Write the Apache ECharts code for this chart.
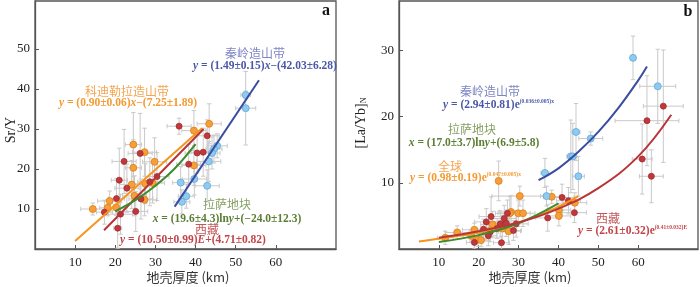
<!DOCTYPE html>
<html><head><meta charset="utf-8">
<script src="https://cdn.jsdelivr.net/npm/echarts@6/dist/echarts.min.js"></script>
<style>html,body{margin:0;padding:0;background:#fff}#c{width:700px;height:287px}</style>
</head><body><div id="c"></div>
<script>
// ---- tick labels ----
const xTicks = [10, 20, 30, 40, 50, 60];
const leftYTicks = [10, 20, 30, 40, 50];
const rightYTicks = [10, 20, 30];

// ---- panel a : Sr/Y  [x, y, xErr, yErr] ----
const leftQinling = [
  [52.5, 38.5, 1.2, 1.0], [52.5, 35.2, 2.5, 9.2], [45.4, 25.8, 2.5, 3.0], [44.6, 25.0, 2.0, 3.5],
  [44.1, 24.0, 2.0, 4.0], [43.3, 21.9, 3.0, 5.0], [39.7, 17.5, 3.0, 4.0], [36.3, 16.6, 2.0, 4.0],
  [42.9, 15.8, 3.0, 4.0], [37.7, 13.2, 2.0, 3.0], [36.6, 11.8, 2.0, 3.0]
];
const leftCordillera = [
  [14.4, 10.0, 3.0, 1.5], [18.6, 12.0, 3.0, 2.5], [18.1, 10.3, 2.0, 2.0], [20.2, 10.4, 2.0, 2.0],
  [24.5, 26.1, 2.0, 8.0], [27.3, 24.2, 3.0, 6.0], [24.5, 20.3, 2.0, 7.0], [29.8, 21.8, 3.0, 6.0],
  [24.1, 16.1, 3.0, 6.0], [27.5, 16.3, 3.0, 5.0], [29.3, 16.5, 3.0, 5.0], [24.8, 13.3, 3.0, 5.0],
  [27.3, 12.3, 3.0, 4.0], [39.6, 29.6, 3.0, 5.0], [43.4, 31.3, 3.0, 5.0], [39.6, 20.9, 3.0, 5.0]
];
const leftTibet = [
  [35.9, 30.7, 3.0, 2.0], [42.9, 28.3, 3.0, 4.0], [41.9, 24.2, 3.0, 6.0], [40.4, 24.0, 3.0, 5.0],
  [38.3, 21.2, 3.0, 5.0], [26.2, 23.9, 3.0, 10.0], [22.2, 21.9, 3.0, 8.0], [21.0, 17.2, 2.0, 8.0],
  [22.9, 15.2, 3.0, 6.0], [20.3, 12.6, 2.0, 5.0], [28.6, 16.8, 3.0, 6.0], [30.4, 18.1, 3.0, 6.0],
  [26.4, 12.5, 3.0, 5.0], [21.3, 8.7, 3.0, 5.0], [25.1, 9.4, 3.0, 5.0], [20.6, 5.2, 1.0, 5.0],
  [17.3, 9.2, 2.0, 3.0]
];
const leftQinlingFit = [[34.8, 10.6], [55.8, 42.2]];
const leftCordilleraFit = [[10.0, 2.0], [41.6, 30.2]];
const leftTibetFit = [[17.2, 4.7], [42.0, 30.0]];
const leftLhasaFit = [[20, 9.4], [25, 12.2], [30, 15.8], [35, 20.3], [40, 26.2]];

// ---- panel b : [La/Yb]N ----
const rightQinling = [
  [58.7, 28.9, 0.6, 3.3], [64.9, 24.6, 4.5, 5.6], [44.4, 17.7, 1.0, 4.3], [48.1, 16.7, 3.0, 1.0],
  [43.1, 14.0, 1.0, 5.5], [43.6, 14.0, 1.0, 5.0], [36.6, 11.5, 1.0, 2.2], [45.0, 11.0, 1.5, 3.0],
  [37.0, 8.0, 1.5, 1.5]
];
const rightGlobal = [
  [25.0, 10.3, 0.5, 3.0], [30.3, 8.0, 7.0, 1.5], [38.3, 7.9, 2.0, 1.0], [40.1, 5.9, 3.0, 1.0],
  [40.1, 5.0, 3.0, 1.5], [44.1, 7.0, 3.0, 1.5], [29.9, 5.4, 3.0, 2.0], [31.1, 5.4, 3.0, 2.0],
  [28.1, 5.6, 3.0, 2.5], [27.8, 5.4, 3.0, 2.5], [23.5, 3.7, 3.0, 2.0], [25.9, 3.1, 3.0, 2.0],
  [27.5, 2.7, 3.0, 2.0], [14.6, 2.5, 3.0, 1.0], [18.9, 2.9, 3.0, 1.0], [18.1, 2.0, 2.0, 1.0],
  [19.8, 1.4, 2.0, 1.0], [20.6, 1.35, 2.0, 1.0], [11.6, 1.7, 2.0, 1.0], [22.5, 2.7, 3.0, 1.5]
];
const rightTibet = [
  [66.3, 21.6, 5.0, 8.5], [62.2, 19.4, 8.0, 6.8], [61.0, 13.6, 2.5, 5.3], [63.3, 11.0, 3.0, 4.0],
  [40.9, 7.8, 3.0, 2.0], [42.5, 7.3, 3.0, 2.0], [44.0, 5.5, 3.0, 1.5], [37.3, 4.7, 3.0, 2.0],
  [27.2, 5.4, 3.0, 2.0], [23.1, 4.9, 3.0, 3.0], [26.4, 4.6, 3.0, 2.0], [21.9, 4.1, 3.0, 2.0],
  [25.4, 3.8, 3.0, 2.0], [26.9, 3.9, 3.0, 2.0], [29.4, 3.8, 3.0, 2.0], [21.2, 3.0, 2.0, 1.5],
  [22.9, 2.6, 2.0, 1.5], [28.7, 2.8, 2.0, 1.5], [24.6, 3.1, 2.0, 1.5], [22.4, 2.0, 2.0, 1.5],
  [18.9, 1.0, 2.0, 1.0], [25.7, 0.95, 2.0, 1.0]
];
const rightQinlingFit = [[35, 10.4], [40, 12.2], [45, 14.7], [50, 17.7], [55, 21.3], [60, 25.5], [62.2, 27.6]];
const rightGlobalFit = [[5, 1.15], [10, 1.55], [15, 2.0], [20, 2.5], [25, 3.2], [30, 4.0], [35, 5.1], [40, 6.4], [45, 8.0]];
const rightTibetFit = [[10, 1.7], [20, 2.7], [30, 4.0], [40, 6.1], [50, 9.2], [60, 14.0], [68.3, 20.3]];
const rightLhasaFit = [[10, 1.05], [20, 2.1], [30, 3.9], [40, 6.9]];

// ---- styles ----
const C = {
  orange: '#f7941d', orangeFill: '#f59e3c', orangeEdge: '#e07f12',
  red: '#b83436', redFill: '#c0383b',
  green: '#3f8a2c', blue: '#3a4da0', blueFill: '#8fcbef', blueEdge: '#5ea8dc',
  err: '#c9c9c9', frame: '#555'
};
const serif = '"Liberation Serif", "Times New Roman", "Noto Sans CJK SC", serif';
const cjk = '"Noto Sans CJK SC", sans-serif';

function errRender(params, api) {
  const x = api.value(0), y = api.value(1), ex = api.value(2), ey = api.value(3);
  const c = api.coord([x, y]);
  const l = api.coord([x - ex, y]), r = api.coord([x + ex, y]);
  const t = api.coord([x, y + ey]), b = api.coord([x, y - ey]);
  const cap = 2.2;
  const st = { stroke: C.err, lineWidth: 1 };
  const ch = [];
  const ln = (x1, y1, x2, y2) => ch.push({ type: 'line', shape: { x1, y1, x2, y2 }, style: st });
  ln(l[0], c[1], r[0], c[1]); ln(l[0], c[1] - cap, l[0], c[1] + cap); ln(r[0], c[1] - cap, r[0], c[1] + cap);
  ln(c[0], t[1], c[0], b[1]); ln(c[0] - cap, t[1], c[0] + cap, t[1]); ln(c[0] - cap, b[1], c[0] + cap, b[1]);
  return { type: 'group', children: ch };
}

function xAx(idx) {
  return {
    type: 'value', gridIndex: idx, min: 0, max: 75, interval: 10,
    axisLine: { show: true, lineStyle: { color: C.frame, width: 1.3 } },
    axisTick: { show: true, inside: true, length: 4, customValues: xTicks, lineStyle: { color: C.frame } },
    axisLabel: { customValues: xTicks, color: '#222', fontFamily: serif, fontSize: 13, margin: 7 },
    splitLine: { show: false }
  };
}
function yAx(idx, max, ticks) {
  return {
    type: 'value', gridIndex: idx, min: 0, max: max, interval: 10,
    axisLine: { show: true, lineStyle: { color: C.frame, width: 1.3 } },
    axisTick: { show: true, inside: true, length: 4, customValues: ticks, lineStyle: { color: C.frame } },
    axisLabel: { customValues: ticks, color: '#222', fontFamily: serif, fontSize: 13, margin: 5 },
    splitLine: { show: false }
  };
}
function errSeries(data, xi) {
  return { type: 'custom', xAxisIndex: xi, yAxisIndex: xi, data: data, renderItem: errRender, clip: true, z: 1, silent: true };
}
function scat(data, xi, fill, edge, size) {
  return { type: 'scatter', xAxisIndex: xi, yAxisIndex: xi, data: data.map(d => [d[0], d[1]]), symbolSize: size,
    itemStyle: { color: fill, borderColor: edge, borderWidth: 0.8, opacity: 1 }, z: 3, silent: true };
}
function fit(data, xi, color, smooth) {
  return { type: 'line', xAxisIndex: xi, yAxisIndex: xi, data: data, smooth: smooth ? 0.4 : false, showSymbol: false,
    symbol: 'none', lineStyle: { color: color, width: 2 }, z: 4, silent: true };
}

function txt(x, y, text, fill, font, align, rich, rot) {
  const o = { type: 'text', x: x, y: y, silent: true, z: 10,
    style: { text: text, fill: fill, font: font, align: align || 'center', verticalAlign: 'middle', rich: rich || undefined } };
  if (rot) o.rotation = rot;
  return o;
}
const eqFont = 'bold 11.5px ' + serif;
function eqRich(color) {
  return {
    i: { fontStyle: 'italic', fontWeight: 'bold', fontSize: 11.5, fontFamily: serif, color: color },
    n: { fontWeight: 'bold', fontSize: 11.5, fontFamily: serif, color: color },
    s: { fontWeight: 'bold', fontSize: 5.5, fontFamily: serif, color: color, verticalAlign: 'top', padding: [0, 0, 7, 0] }
  };
}

const chart = echarts.init(document.getElementById('c'), null, { renderer: 'canvas' });
chart.setOption({
  animation: false,
  grid: [
    { left: 35, top: 1, width: 301, height: 248, show: true, borderColor: C.frame, borderWidth: 1.3, backgroundColor: 'transparent' },
    { left: 399, top: 1, width: 299, height: 248, show: true, borderColor: C.frame, borderWidth: 1.3, backgroundColor: 'transparent' }
  ],
  xAxis: [xAx(0), xAx(1)],
  yAxis: [yAx(0, 62, leftYTicks), yAx(1, 37.5, rightYTicks)],
  series: [
    errSeries(leftQinling, 0), errSeries(leftCordillera, 0), errSeries(leftTibet, 0),
    scat(leftCordillera, 0, C.orangeFill, C.orangeEdge, 7),
    scat(leftTibet, 0, C.redFill, '#a52a2d', 6),
    scat(leftQinling, 0, C.blueFill, C.blueEdge, 7),
    fit(leftCordilleraFit, 0, C.orange, false),
    fit(leftTibetFit, 0, C.red, false),
    fit(leftLhasaFit, 0, C.green, true),
    fit(leftQinlingFit, 0, C.blue, false),

    errSeries(rightQinling, 1), errSeries(rightGlobal, 1), errSeries(rightTibet, 1),
    scat(rightGlobal, 1, C.orangeFill, C.orangeEdge, 7),
    scat(rightTibet, 1, C.redFill, '#a52a2d', 6),
    scat(rightQinling, 1, C.blueFill, C.blueEdge, 7),
    fit(rightGlobalFit, 1, C.orange, true),
    fit(rightLhasaFit, 1, C.green, true),
    fit(rightTibetFit, 1, C.red, true),
    fit(rightQinlingFit, 1, C.blue, true)
  ],
  graphic: [
    // panel letters
    txt(326, 11, 'a', '#111', 'bold 16px ' + serif),
    txt(688, 12, 'b', '#111', 'bold 16px ' + serif),
    // axis names
    txt(11, 130, 'Sr/Y', '#222', '14px ' + serif, 'center', null, Math.PI / 2),
    txt(361, 123, '[La/Yb]{sub|N}', '#222', '14px ' + serif, 'center',
      { sub: { fontSize: 8, fontFamily: serif, color: '#222', verticalAlign: 'bottom', padding: [6, 0, 0, 0] } }, Math.PI / 2),
    txt(188, 277, '地壳厚度 (km)', '#333', '13px ' + cjk),
    txt(530, 277, '地壳厚度 (km)', '#333', '13px ' + cjk),

    // panel a annotations
    txt(255, 53, '秦岭造山带', '#7d86c3', '12px ' + cjk),
    txt(265, 66, '{i|y}{n| = (1.49±0.15)}{i|x}{n|−(42.03±6.28)}', '#4a58a6', eqFont, 'center', eqRich('#4a58a6')),
    txt(127, 91, '科迪勒拉造山带', '#f5a550', '12px ' + cjk),
    txt(128, 103, '{i|y}{n| = (0.90±0.06)}{i|x}{n|−(7.25±1.89)}', '#f39a33', eqFont, 'center', eqRich('#f39a33')),
    txt(227, 204, '拉萨地块', '#86a063', '12px ' + cjk),
    txt(227, 219, '{i|x}{n| = (19.6±4.3)ln}{i|y}{n|+(−24.0±12.3)}', '#5b7d34', eqFont, 'center', eqRich('#5b7d34')),
    txt(207, 229, '西藏', '#c4585a', '12px ' + cjk),
    txt(193, 240, '{i|y}{n| = (10.50±0.99)}{i|E}{n|+(4.71±0.82)}', '#c2444a', eqFont, 'center', eqRich('#c2444a')),

    // panel b annotations
    txt(490, 91, '秦岭造山带', '#7d86c3', '12px ' + cjk),
    txt(443, 105, '{i|y}{n| = (2.94±0.81)e}{s|(0.036±0.005)x}', '#4a58a6', eqFont, 'left', eqRich('#4a58a6')),
    txt(472, 129, '拉萨地块', '#86a063', '12px ' + cjk),
    txt(474, 143, '{i|x}{n| = (17.0±3.7)ln}{i|y}{n|+(6.9±5.8)}', '#5b7d34', eqFont, 'center', eqRich('#5b7d34')),
    txt(450, 166, '全球', '#f5a550', '12px ' + cjk),
    txt(410, 178, '{i|y}{n| = (0.98±0.19)e}{s|(0.047±0.005)x}', '#f39a33', eqFont, 'left', eqRich('#f39a33')),
    txt(608, 218, '西藏', '#c4585a', '12px ' + cjk),
    txt(578, 231, '{i|y}{n| = (2.61±0.32)e}{s|(0.41±0.032)E}', '#c2444a', eqFont, 'left', eqRich('#c2444a'))
  ]
});
</script>
</body></html>
